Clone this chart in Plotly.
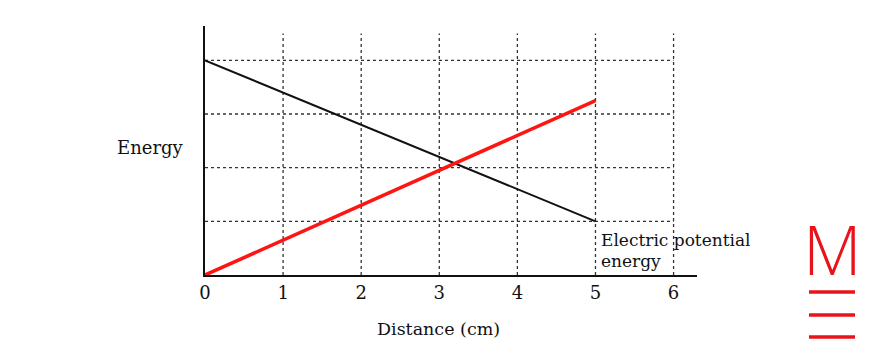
import plotly.graph_objects as go

# Data
distance = [0, 5]
electric_potential = [4, 1]
kinetic = [0, 3.25]
x_ticks = [0, 1, 2, 3, 4, 5, 6]
y_grid = [1, 2, 3, 4]

OFF = 8  # page body margin offset
W, H = 862, 352
L, T = 205 - OFF, 26 - OFF
PW, PH = 492, 249
R, B = W - L - PW, H - T - PH
X_MAX, Y_MAX = 6.3, 4.64

SERIF = "DejaVu Serif, serif"
INK = "#111111"

fig = go.Figure()

fig.add_trace(go.Scatter(x=distance, y=electric_potential, mode="lines",
                         line=dict(color=INK, width=2), showlegend=False,
                         hoverinfo="skip"))
fig.add_trace(go.Scatter(x=distance, y=kinetic, mode="lines",
                         line=dict(color="#ff1414", width=3.5), showlegend=False,
                         hoverinfo="skip"))


def px(pagex):
    return (pagex - OFF - L) / PW


def py(pagey):
    return (H - B - (pagey - OFF)) / PH


shapes = []
grid_line = dict(color="#333333", width=1.3, dash="dot")
for gx in x_ticks[1:]:
    shapes.append(dict(type="line", xref="x", yref="y", x0=gx, x1=gx, y0=0, y1=4.5,
                       line=grid_line, layer="below"))
for gy in y_grid:
    shapes.append(dict(type="line", xref="x", yref="y", x0=0, x1=x_ticks[-1], y0=gy, y1=gy,
                       line=grid_line, layer="below"))

logo_red = "#e8141b"
for ly in [292, 315, 337]:
    shapes.append(dict(type="line", xref="paper", yref="paper",
                       x0=px(809), x1=px(855), y0=py(ly), y1=py(ly),
                       line=dict(color=logo_red, width=3.5)))


def ann(text, x, y, size, xanchor="center", **kw):
    return dict(text=text, xref="paper", yref="paper", x=x, y=y, xanchor=xanchor,
                yanchor="middle", showarrow=False,
                font=dict(family=kw.pop("family", SERIF), size=size, color=kw.pop("color", INK),
                          **kw))


annotations = [
    ann("Energy", px(150), py(147), 18),
    ann("Distance (cm)", px(438), py(329), 17.5),
    ann("Electric potential", px(599), py(240), 17, xanchor="left"),
    ann("energy", px(599), py(261), 17, xanchor="left"),
    ann("M", px(832), py(248), 68, family="Open Sans, sans-serif", color=logo_red, weight=300),
]

fig.update_layout(
    width=W, height=H,
    margin=dict(l=L, r=R, t=T, b=B, autoexpand=False),
    paper_bgcolor="white", plot_bgcolor="white",
    shapes=shapes, annotations=annotations,
    xaxis=dict(range=[0, X_MAX], tickvals=x_ticks, ticktext=[str(v) for v in x_ticks],
               showgrid=False, zeroline=False, showline=True, linecolor=INK, linewidth=2,
               ticks="", tickfont=dict(family=SERIF, size=18, color=INK), fixedrange=True),
    yaxis=dict(range=[0, Y_MAX], showticklabels=False, showgrid=False, zeroline=False,
               showline=True, linecolor=INK, linewidth=2, ticks="", fixedrange=True),
)

fig.write_html("out.html")
